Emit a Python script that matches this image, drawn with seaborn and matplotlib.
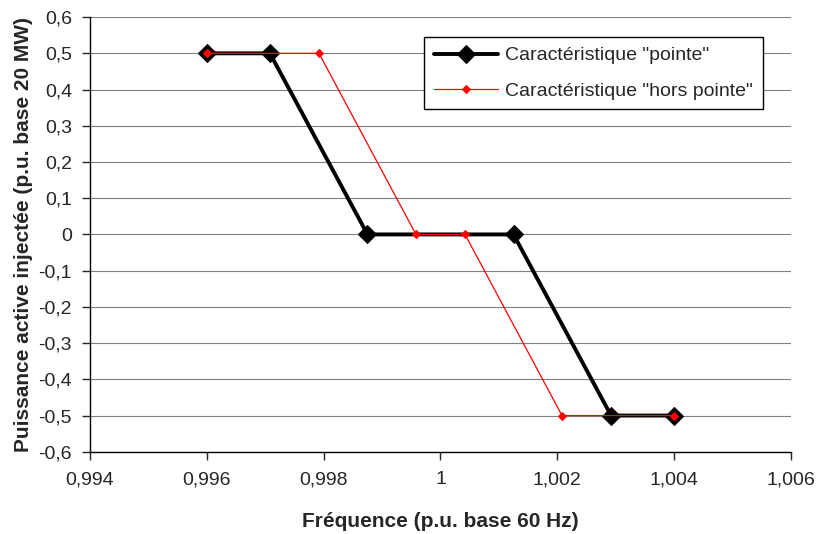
import pandas as pd
import matplotlib
matplotlib.use('Agg')
import matplotlib.pyplot as plt
import seaborn as sns
from matplotlib.ticker import FuncFormatter, MultipleLocator

# Data
freq_pointe = [0.996, 0.99708, 0.99875, 1.00125, 1.00292, 1.004]
puiss_pointe = [0.5, 0.5, 0.0, 0.0, -0.5, -0.5]
freq_hors = [0.996, 0.99792, 0.99958, 1.00042, 1.00208, 1.004]
puiss_hors = [0.5, 0.5, 0.0, 0.0, -0.5, -0.5]

sns.set_style('ticks')
plt.rcParams['font.family'] = ['Liberation Sans', 'DejaVu Sans']

df_pointe = pd.DataFrame({'f': freq_pointe, 'p': puiss_pointe})
df_hors = pd.DataFrame({'f': freq_hors, 'p': puiss_hors})

fig, ax = plt.subplots(figsize=(8.18, 5.34), dpi=100)
fig.subplots_adjust(left=0.110, right=0.967, top=0.968, bottom=0.154)

sns.lineplot(data=df_pointe, x='f', y='p', sort=False, ax=ax, color='black',
             linewidth=2.8, marker='D', markersize=9, markerfacecolor='black',
             markeredgecolor='black', label='Caractéristique "pointe"')
sns.lineplot(data=df_hors, x='f', y='p', sort=False, ax=ax, color='red',
             linewidth=0.9, marker='D', markersize=4.5, markerfacecolor='red',
             markeredgecolor='red', label='Caractéristique "hors pointe"')

ax.set_xlim(0.994, 1.006)
ax.set_ylim(-0.6, 0.6)
ax.xaxis.set_major_locator(MultipleLocator(0.002))
ax.yaxis.set_major_locator(MultipleLocator(0.1))


def fmt(v, pos):
    s = f'{v:.3f}'.rstrip('0').rstrip('.')
    if s in ('-0', '-0.0'):
        s = '0'
    return s.replace('.', ',')


def fmt_y(v, pos):
    s = f'{v:.1f}'
    if s == '-0.0' or s == '0.0':
        return '0'
    return s.replace('.', ',')


ax.xaxis.set_major_formatter(FuncFormatter(fmt))
ax.yaxis.set_major_formatter(FuncFormatter(fmt_y))
ax.tick_params(axis='both', labelsize=14, direction='out', length=6, width=1)
ax.tick_params(axis='x', pad=8)
ax.tick_params(axis='y', pad=7)

ax.yaxis.grid(True, color='#808080', linewidth=0.8)
ax.set_axisbelow(True)
for s in ['top', 'right']:
    ax.spines[s].set_visible(False)
for s in ['left', 'bottom']:
    ax.spines[s].set_color('black')
    ax.spines[s].set_linewidth(1)

ax.set_xlabel('Fréquence (p.u. base 60 Hz)', fontsize=15, fontweight='bold', labelpad=17)
ax.set_ylabel('Puissance active injectée (p.u. base 20 MW)', fontsize=15, fontweight='bold', labelpad=4)

leg = ax.legend(loc='upper right', bbox_to_anchor=(0.960, 0.954), fontsize=14,
                frameon=True, fancybox=False, edgecolor='black', framealpha=1,
                borderpad=0.5, labelspacing=0.9, handlelength=3.3, handletextpad=0.4,
                borderaxespad=0)
leg.get_frame().set_linewidth(1)

fig.savefig('out.png', dpi=100)
